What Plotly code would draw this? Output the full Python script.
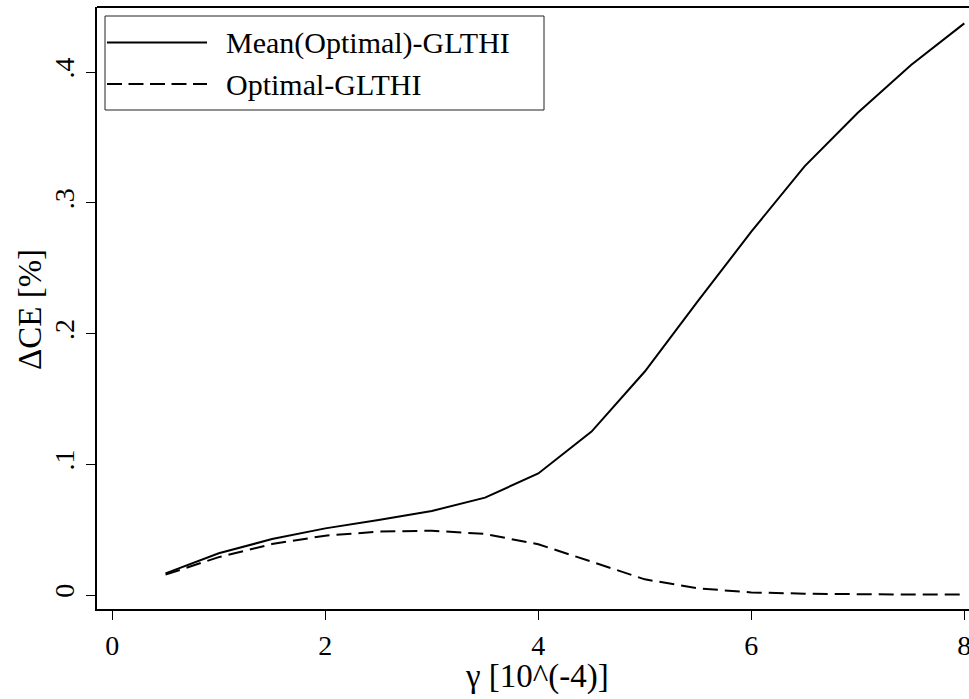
import plotly.graph_objects as go

# ---- data ----
gamma = [0.5, 1.0, 1.5, 2.0, 2.5, 3.0, 3.5, 4.0, 4.5, 5.0, 5.5, 6.0, 6.5, 7.0, 7.5, 8.0]
mean_optimal_glthi = [0.0166, 0.0319, 0.0428, 0.0510, 0.0574, 0.0643, 0.0745, 0.0930,
                      0.1250, 0.1710, 0.2250, 0.2780, 0.3280, 0.3690, 0.4055, 0.4374]
optimal_glthi = [0.0156, 0.0290, 0.0390, 0.0454, 0.0485, 0.0492, 0.0467, 0.0388,
                 0.0255, 0.0120, 0.0051, 0.0020, 0.0010, 0.0005, 0.0003, 0.0003]
series_names = ["Mean(Optimal)-GLTHI", "Optimal-GLTHI"]
x_tickvals = [0, 2, 4, 6, 8]
x_ticktext = ["0", "2", "4", "6", "8"]
y_tickvals = [0, 0.1, 0.2, 0.3, 0.4]
y_ticktext = ["0", ".1", ".2", ".3", ".4"]
x_title = "γ [10^(-4)]"
y_title = "ΔCE [%]"

W, H = 969, 699
ML, MR, MT, MB = 97, 0, 7, 90
PW, PH = W - ML - MR, H - MT - MB
FONT = "Liberation Serif"


def px(x):
    return (x - ML) / PW


def py(y):
    return (H - MB - y) / PH


fig = go.Figure()
fig.add_trace(go.Scatter(x=gamma, y=mean_optimal_glthi, mode="lines", name=series_names[0],
                         line=dict(color="black", width=2), showlegend=False))
fig.add_trace(go.Scatter(x=gamma, y=optimal_glthi, mode="lines", name=series_names[1],
                         line=dict(color="black", width=2, dash="15px,7px"), showlegend=False))

shapes = [
    # top border of plot region
    dict(type="line", xref="paper", yref="paper", x0=0, x1=1, y0=1, y1=1,
         line=dict(color="black", width=2)),
    # legend box
    dict(type="rect", xref="paper", yref="paper", x0=px(105), x1=px(544), y0=py(16), y1=py(110),
         line=dict(color="#222", width=1), fillcolor="white"),
    dict(type="line", xref="paper", yref="paper", x0=px(107), x1=px(207), y0=py(42.5), y1=py(42.5),
         line=dict(color="black", width=2)),
    dict(type="line", xref="paper", yref="paper", x0=px(107), x1=px(207), y0=py(84), y1=py(84),
         line=dict(color="black", width=2, dash="15px,6.5px")),
]
annotations = [
    dict(text=series_names[0], xref="paper", yref="paper", x=px(224), y=py(42.5),
         xanchor="left", yanchor="middle", showarrow=False,
         font=dict(family=FONT, size=30, color="black")),
    dict(text=series_names[1], xref="paper", yref="paper", x=px(224), y=py(84),
         xanchor="left", yanchor="middle", showarrow=False,
         font=dict(family=FONT, size=30, color="black")),
    # x-axis title
    dict(text=x_title, xref="paper", yref="paper", x=px(537), y=py(676),
         xanchor="center", yanchor="middle", showarrow=False,
         font=dict(family=FONT, size=33, color="black")),
    # y-axis title
    dict(text=y_title, xref="paper", yref="paper", x=px(30), y=py(310),
         xanchor="center", yanchor="middle", showarrow=False, textangle=-90,
         font=dict(family=FONT, size=33, color="black")),
]

fig.update_layout(
    width=W, height=H,
    margin=dict(l=ML, r=MR, t=MT, b=MB, autoexpand=False),
    paper_bgcolor="white", plot_bgcolor="white",
    font=dict(family=FONT, color="black", size=28),
    shapes=shapes, annotations=annotations,
    showlegend=False,
    xaxis=dict(range=[-0.1437, 8.0441], tickvals=x_tickvals, ticktext=x_ticktext,
               showgrid=False, zeroline=False, showline=True, linecolor="black", linewidth=2,
               ticks="outside", ticklen=9, tickwidth=1, tickcolor="black",
               tickfont=dict(family=FONT, size=28), ticklabelstandoff=1,
               ticklabeloverflow="allow"),
    yaxis=dict(range=[-0.0107, 0.4499], tickvals=y_tickvals, ticktext=y_ticktext,
               showgrid=False, zeroline=False, showline=True, linecolor="black", linewidth=2,
               ticks="outside", ticklen=9, tickwidth=1, tickcolor="black", tickangle=-90,
               tickfont=dict(family=FONT, size=28), ticklabelstandoff=1,
               ticklabeloverflow="allow"),
)

fig.write_html("out.html")
